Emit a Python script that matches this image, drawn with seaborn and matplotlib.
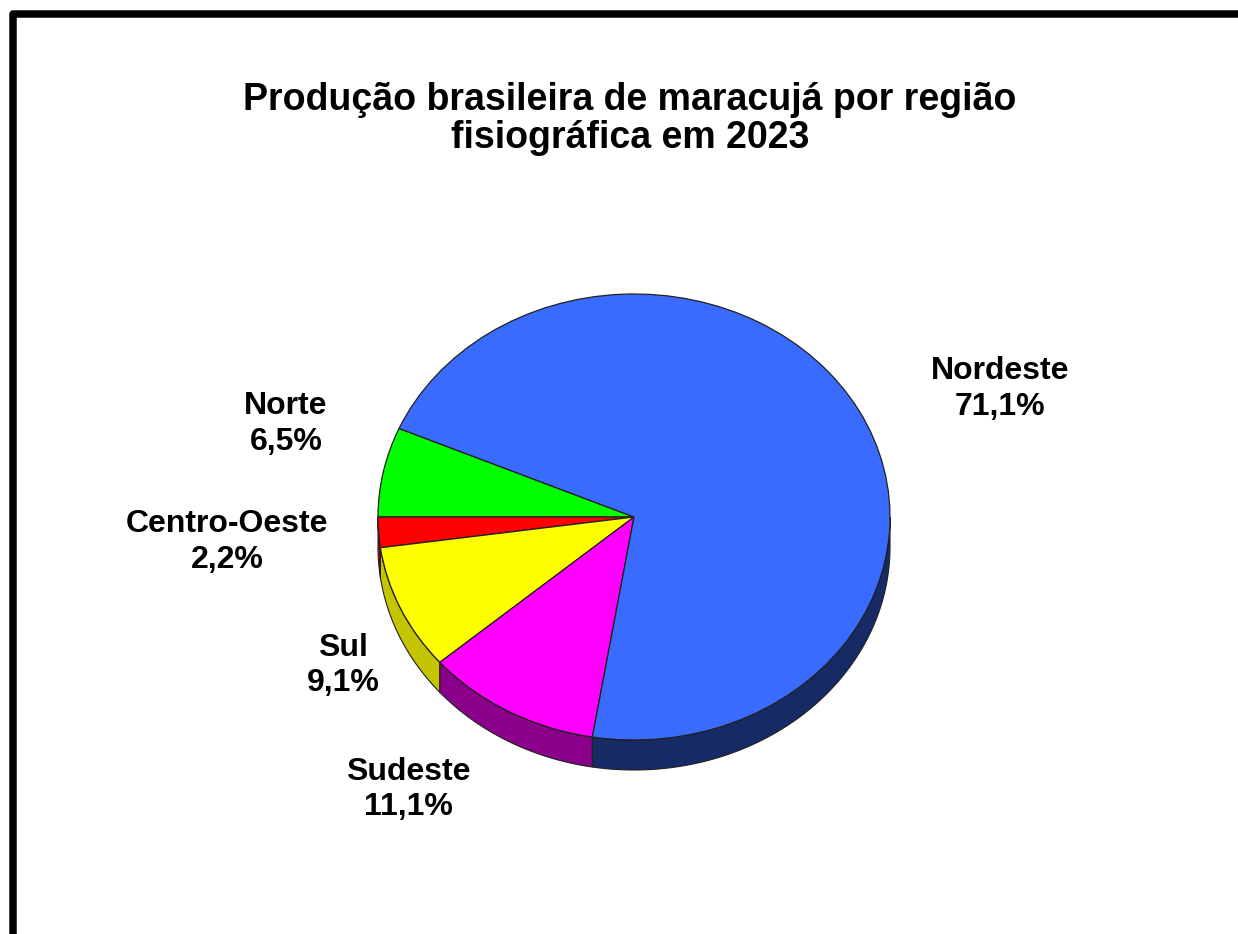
import numpy as np
import matplotlib
matplotlib.use("Agg")
import matplotlib.pyplot as plt
from matplotlib.patches import Polygon, Rectangle
import seaborn as sns

# Brazilian passion fruit production share by region, 2023 (%)
regions = ["Norte", "Centro-Oeste", "Sul", "Sudeste", "Nordeste"]
shares = [6.5, 2.2, 9.1, 11.1, 71.1]
top_colors = ["#00FF00", "#FF0000", "#FFFF00", "#FF00FF", "#3A6BFF"]
side_colors = ["#009000", "#A00000", "#C4C400", "#8A008A", "#162A66"]

title = "Produção brasileira de maracujá por região\nfisiográfica em 2023"

sns.set_theme(style="white")
plt.rcParams["font.family"] = ["Liberation Sans", "DejaVu Sans"]

W, H = 1238, 934
fig = plt.figure(figsize=(W / 100, H / 100), dpi=100)
fig.patch.set_facecolor("white")
ax = fig.add_axes([0, 0, 1, 1])

wedges, _ = ax.pie(
    shares,
    colors=top_colors,
    startangle=156.6,
    counterclock=True,
    wedgeprops=dict(edgecolor="#202020", linewidth=0.9, zorder=3),
)

# Pie geometry in pixels: centre, horizontal/vertical radius, rim depth
cx, cy, rx, ry, depth_px = 634, 517, 256, 223, 30
ax.set_aspect("auto")
ax.set_xlim(-cx / rx, (W - cx) / rx)
ax.set_ylim(-(H - cy) / ry, cy / ry)
ax.axis("off")
depth = depth_px / ry

# Visible rim of the tilted pie: the front half of each wedge's arc
for w, sc in zip(wedges, side_colors):
    t1, t2 = w.theta1, w.theta2
    for k in (0, 360):
        a = max(t1, 180 + k)
        b = min(t2, 360 + k)
        if b <= a:
            continue
        t = np.radians(np.linspace(a, b, 120))
        upper = np.column_stack([np.cos(t), np.sin(t)])
        lower = np.column_stack([np.cos(t), np.sin(t) - depth])[::-1]
        ax.add_patch(Polygon(np.vstack([upper, lower]), closed=True,
                             facecolor=sc, edgecolor="#202020",
                             linewidth=0.8, zorder=2))

# Region labels with their percentages
label_pos = {
    "Nordeste": (1.43, 0.574),
    "Norte": (-1.36, 0.417),
    "Centro-Oeste": (-1.59, -0.112),
    "Sul": (-1.137, -0.664),
    "Sudeste": (-0.883, -1.224),
}
for name, val in zip(regions, shares):
    x, y = label_pos[name]
    txt = f"{name}\n{val:.1f}%".replace(".", ",")
    ax.text(x, y, txt, ha="center", va="center", fontsize=23,
            fontweight="bold", color="black", linespacing=1.22, zorder=5)

fig.text(630 / W, 1 - 119 / H, title, ha="center", va="center",
         fontsize=27, fontweight="bold", color="black", linespacing=1.1)

# Heavy frame running off the right and bottom edges
fig.patches.append(Rectangle((12.5 / W, -0.2), 1.5, 1 - 13.5 / H + 0.2,
                             transform=fig.transFigure, fill=False,
                             edgecolor="black", linewidth=5.4,
                             joinstyle="round", zorder=10))

fig.savefig("out.png", dpi=100, facecolor="white")
